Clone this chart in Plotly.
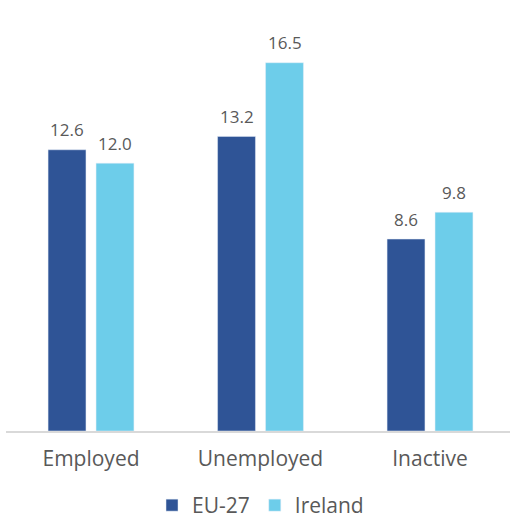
import plotly.graph_objects as go

categories = ["Employed", "Unemployed", "Inactive"]
eu27 = [12.6, 13.2, 8.6]
ireland = [12.0, 16.5, 9.8]

font_family = "'Open Sans', sans-serif"
grey = "#595959"
eu_color = "#2F5496"
ie_color = "#6DCDEA"

fig = go.Figure()
fig.add_trace(go.Bar(x=categories, y=eu27, name="EU-27", marker_color=eu_color))
fig.add_trace(go.Bar(x=categories, y=ireland, name="Ireland", marker_color=ie_color))

annotations = []
for series, shift in ((eu27, -24), (ireland, 24)):
    for cat, v in zip(categories, series):
        annotations.append(dict(
            x=cat, y=v, xref="x", yref="y", text=f"{v:.1f}", showarrow=False,
            xshift=shift, yshift=20, yanchor="middle",
            font=dict(size=17, color=grey, family=font_family),
        ))

fig.update_layout(
    width=510, height=526,
    margin=dict(l=6, r=0, t=0, b=87),
    plot_bgcolor="white", paper_bgcolor="white",
    barmode="group", bargap=0.434, bargroupgap=0.21,
    font=dict(family=font_family, color=grey),
    legend=dict(orientation="h", x=0.505, xanchor="center", y=-0.173, yanchor="middle",
                font=dict(size=21, color=grey), itemwidth=30, traceorder="normal"),
    annotations=annotations,
)
fig.update_xaxes(range=[-0.5015, 2.472], showline=True, linecolor="#D9D9D9", linewidth=1.5,
                 tickfont=dict(size=21, color=grey), ticks="outside", ticklen=8,
                 tickcolor="rgba(0,0,0,0)", showgrid=False)
fig.update_yaxes(range=[0, 19.31], visible=False, showgrid=False, zeroline=False)

fig.write_html(
    "out.html",
    config={"displayModeBar": False},
    post_script="document.body.style.margin='0';document.body.style.overflow='hidden';",
)
